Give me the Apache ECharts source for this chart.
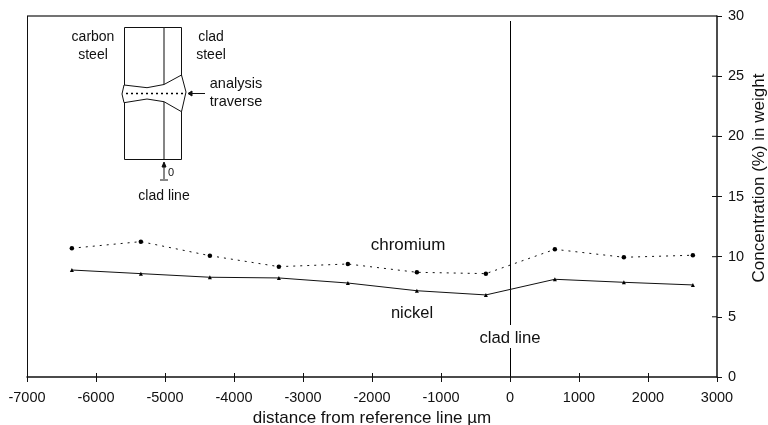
<!DOCTYPE html>
<html><head><meta charset="utf-8">
<style>html,body{margin:0;padding:0;background:#fff}#c{width:768px;height:425px}</style>
<script src="https://cdn.jsdelivr.net/npm/echarts@6/dist/echarts.min.js"></script>
</head><body><div id="c"></div>
<script>
const distance = [-6350,-5350,-4350,-3350,-2350,-1350,-350,650,1650,2650];
const chromium = [10.70,11.25,10.08,9.17,9.39,8.70,8.59,10.61,9.95,10.12];
const nickel = [8.89,8.59,8.29,8.23,7.81,7.17,6.82,8.12,7.87,7.65];
const xTitle = 'distance from reference line µm';
const yTitle = 'Concentration (%) in weight';
const font = '"Liberation Sans", Arial, sans-serif';
const ink = '#111';

const pair = (xs, ys) => xs.map((x, i) => [x, ys[i]]);
const line = (points, extra) => ({type:'polyline', silent:true, shape:{points},
  style:Object.assign({stroke:ink, lineWidth:1, fill:null}, extra||{})});
const label = (x, y, text, size) => ({type:'text', silent:true, x, y,
  style:{text, fill:ink, font:(size||14)+'px '+font, textAlign:'center', textVerticalAlign:'middle'}});

const chart = echarts.init(document.getElementById('c'), null, {renderer:'canvas'});
chart.setOption({
  animation:false,
  backgroundColor:'#fff',
  grid:{left:27, right:51, top:16, bottom:48, show:false, containLabel:false, outerBoundsMode:'none'},
  xAxis:{type:'value', min:-7000, max:3000, interval:1000,
    axisLine:{onZero:false, lineStyle:{color:ink, width:1.5}},
    axisTick:{show:true, inside:false, length:5, lineStyle:{color:ink}},
    axisLabel:{color:ink, fontFamily:font, fontSize:14.5, margin:13, formatter:v => String(v), showMinLabel:true, showMaxLabel:true, hideOverlap:false},
    splitLine:{show:false},
    name:xTitle, nameLocation:'middle', nameGap:32,
    nameTextStyle:{color:ink, fontFamily:font, fontSize:17}},
  yAxis:{type:'value', min:0, max:30, interval:5, position:'right',
    axisLine:{show:true, onZero:false, lineStyle:{color:ink, width:1.5}},
    axisTick:{show:true, inside:false, length:5, lineStyle:{color:ink}},
    axisLabel:{color:ink, fontFamily:font, fontSize:14.5, margin:11, showMinLabel:true, showMaxLabel:true},
    splitLine:{show:false}},
  series:[
    {name:'chromium', type:'line', data:pair(distance, chromium), symbol:'circle', symbolSize:4.5,
      itemStyle:{color:'#000'}, lineStyle:{color:ink, width:1, type:[2,5]}, silent:true, z:3},
    {name:'nickel', type:'line', data:pair(distance, nickel), symbol:'triangle', symbolSize:4,
      itemStyle:{color:'#000'}, lineStyle:{color:ink, width:1}, silent:true, z:3}
  ],
  graphic:{elements:[
    {type:'text', silent:true, x:759, y:178, rotation:Math.PI/2,
      style:{text:yTitle, fill:ink, font:'17px '+font, textAlign:'center', textVerticalAlign:'middle'}},
    line([[27,16],[717,16]], {stroke:'#444', lineWidth:1.5}),
    line([[27.5,16],[27.5,377]]),
    ...[76.2,136.3,196.5,256.7,316.8].map(y => line([[712,y],[717,y]])),
    ...[96.5,165.5,234.5,303.5,372.5,441.5,510.5,579.5,648.5].map(x => line([[x,373],[x,377]])),
    line([[510.5,21],[510.5,325]], {stroke:'#000'}),
    line([[510.5,348],[510.5,377]], {stroke:'#000'}),
    label(510,338,'clad line',16.7),
    label(408,245,'chromium',17),
    label(412,313,'nickel',16.5),
    line([[124.5,27.5],[124.5,159.5],[181.5,159.5],[181.5,27.5],[124.5,27.5]]),
    line([[164,27.5],[164,159]], {stroke:'#333', lineWidth:1.2}),
    line([[124,85],[147,87.7],[164,84.5],[181.5,75],[186,92],[181.5,111.7],[164,101.7],[147,99],[124,102.7],[122,94],[124,85]],
      {fill:'#fff'}),
    line([[126,93.5],[186,93.5]], {lineDash:[2,3], lineWidth:1.6, stroke:'#000'}),
    line([[205,93.5],[189,93.5]]),
    line([[192,91],[188,93.5],[192,96],[192,91]], {fill:ink}),
    line([[164,179],[164,163]]),
    line([[162,167],[164,162],[166,167],[162,167]], {fill:ink}),
    line([[160,180],[168,180]]),
    label(171,173,'0',11),
    label(93,37,'carbon'), label(93,55,'steel'),
    label(211,37,'clad'), label(211,55,'steel'),
    label(236,84,'analysis',14.5), label(236,102,'traverse',14.5),
    label(164,196,'clad line')
  ]}
});
</script></body></html>
